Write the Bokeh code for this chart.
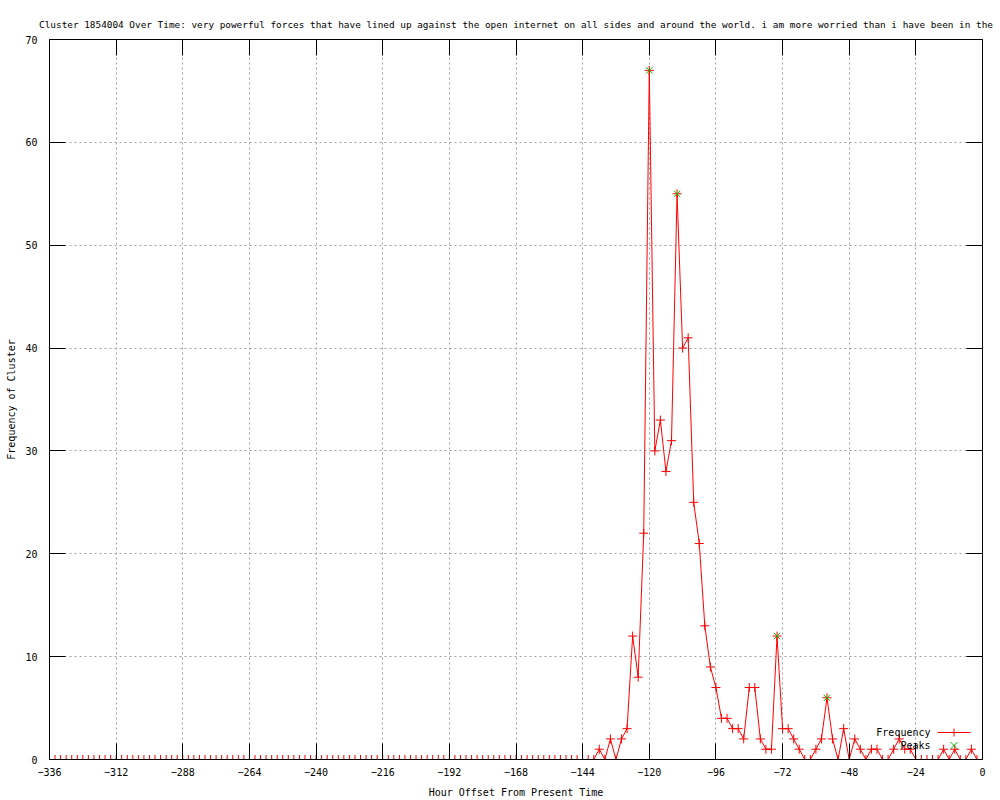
from bokeh.plotting import figure
from bokeh.models import Range1d, FixedTicker, LinearAxis, Label, Arrow, CustomJSTickFormatter
from bokeh.embed import file_html
from bokeh.resources import INLINE

# ---- data ----
title_text = ("Cluster 1854004 Over Time: very powerful forces that have lined up against the open "
              "internet on all sides and around the world. i am more worried than i have been in the")

hours = list(range(-336, 1, 2))  # sample every 2 hours, -336 .. 0

frequency = [
    0, 0, 0, 0, 0, 0, 0, 0, 0, 0, 0,
    0, 0, 0, 0, 0, 0, 0, 0, 0, 0, 0,
    0, 0, 0, 0, 0, 0, 0, 0, 0, 0, 0,
    0, 0, 0, 0, 0, 0, 0, 0, 0, 0, 0,
    0, 0, 0, 0, 0, 0, 0, 0, 0, 0, 0,
    0, 0, 0, 0, 0, 0, 0, 0, 0, 0, 0,
    0, 0, 0, 0, 0, 0, 0, 0, 0, 0, 0,
    0, 0, 0, 0, 0, 0, 0, 0, 0, 0, 0,
    0, 0, 0, 0, 0, 0, 0, 0, 0, 0, 0,
    # -138 .. 0
    1, 0, 2, 0, 2, 3, 12, 8, 22, 67,
    30, 33, 28, 31, 55, 40, 41, 25, 21, 13,
    9, 7, 4, 4, 3, 3, 2, 7, 7, 2,
    1, 1, 12, 3, 3, 2, 1, 0, 0, 1,
    2, 6, 2, 0, 3, 0, 2, 1, 0, 1,
    1, 0, 0, 1, 2, 1, 1, 0, 0, 0,
    0, 0, 1, 0, 1, 0, 0, 1, 0, 0,
]

peak_hours = [-120, -110, -74, -56]
peak_values = [67, 55, 12, 6]

x_ticks = [-336, -312, -288, -264, -240, -216, -192, -168, -144, -120, -96, -72, -48, -24, 0]
y_ticks = [0, 10, 20, 30, 40, 50, 60, 70]

FONT = "DejaVu Sans Mono"
FS = "10px"
W, H = 1000, 800

p = figure(width=W, height=H, output_backend="svg", toolbar_location=None,
           x_range=Range1d(-336, 0), y_range=Range1d(0, 70),
           min_border_left=49, min_border_right=18, min_border_top=39, min_border_bottom=40,
           background_fill_color="white", border_fill_color="white")

p.title.text = title_text
p.title.align = "center"
p.title.offset = -15
p.title.text_font = FONT
p.title.text_font_size = "9.4px"
p.title.text_font_style = "normal"
p.title.text_color = "black"
p.title.standoff = 19

p.outline_line_color = "black"
p.outline_line_width = 1

for ax in (p.xaxis[0], p.yaxis[0]):
    ax.major_tick_in = 16
    ax.major_tick_out = 0
    ax.minor_tick_in = 0
    ax.minor_tick_out = 0
    ax.axis_line_color = "black"
    ax.major_tick_line_color = "black"
    ax.major_label_text_font = FONT
    ax.major_label_text_font_size = FS
    ax.major_label_text_color = "black"
    ax.axis_label_text_font = FONT
    ax.axis_label_text_font_size = FS
    ax.axis_label_text_font_style = "normal"
    ax.axis_label_text_color = "black"

p.xaxis.ticker = FixedTicker(ticks=x_ticks)
p.yaxis.ticker = FixedTicker(ticks=y_ticks)
p.xaxis.major_label_standoff = 8
p.yaxis.major_label_standoff = 12
p.xaxis.axis_label = "Hour Offset From Present Time"
p.yaxis.axis_label = "Frequency of Cluster"
p.xaxis.axis_label_standoff = 8
p.yaxis.axis_label_standoff = 5

# mirrored tick marks on top and right borders
top = LinearAxis(ticker=FixedTicker(ticks=x_ticks), major_tick_in=16, major_tick_out=0,
                 minor_tick_in=0, minor_tick_out=0, major_label_standoff=0,
                 formatter=CustomJSTickFormatter(code="return ''"),
                 major_label_text_font_size="1px", axis_line_color="black")
right = LinearAxis(ticker=FixedTicker(ticks=y_ticks), major_tick_in=16, major_tick_out=0,
                   minor_tick_in=0, minor_tick_out=0, major_label_standoff=0,
                   formatter=CustomJSTickFormatter(code="return ''"),
                   major_label_text_font_size="1px", axis_line_color="black")
p.add_layout(top, "above")
p.add_layout(right, "right")

for g, t in ((p.xgrid[0], x_ticks), (p.ygrid[0], y_ticks)):
    g.ticker = FixedTicker(ticks=t)
    g.grid_line_color = "#a0a0a0"
    g.grid_line_dash = "2 3"
    g.grid_line_width = 1

# ---- data marks ----
p.line(hours, frequency, line_color="red", line_width=1)
p.scatter(hours, frequency, marker="cross", size=9, line_color="red", line_width=1)
p.scatter(peak_hours, peak_values, marker="x", size=9, line_color="#00c000", line_width=1)

# ---- gnuplot-style key (text left of sample); screen units relative to the frame ----
ky1 = 27
ky2 = 14
tx = 881
sx0, sx1 = 888, 921
sxc = (sx0 + sx1) / 2
p.add_layout(Label(text="Frequency", x=tx, y=ky1, x_units="screen", y_units="screen",
                   text_align="right", text_baseline="middle", text_font=FONT,
                   text_font_size=FS, text_color="black"))
p.add_layout(Label(text="Peaks", x=tx, y=ky2, x_units="screen", y_units="screen",
                   text_align="right", text_baseline="middle", text_font=FONT,
                   text_font_size=FS, text_color="black"))

def seg(x0, y0, x1, y1, color):
    p.add_layout(Arrow(end=None, x_start=x0, y_start=y0, x_end=x1, y_end=y1,
                       start_units="screen", end_units="screen",
                       line_color=color, line_width=1))

seg(sx0, ky1, sx1, ky1, "red")
seg(sxc, ky1 - 4, sxc, ky1 + 4, "red")
seg(sxc - 3.5, ky2 - 3.5, sxc + 3.5, ky2 + 3.5, "#00c000")
seg(sxc - 3.5, ky2 + 3.5, sxc + 3.5, ky2 - 3.5, "#00c000")

open("out.html", "w").write(file_html(p, INLINE))
